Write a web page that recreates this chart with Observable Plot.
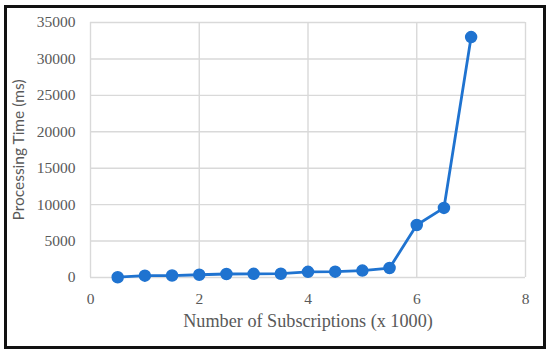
<!DOCTYPE html>
<html>
<head>
<meta charset="utf-8">
<script src="https://cdn.jsdelivr.net/npm/d3@7"></script>
<script src="https://cdn.jsdelivr.net/npm/@observablehq/plot@0.6"></script>
<style>
  html, body { margin: 0; padding: 0; background: #fff; }
  #wrap { position: relative; width: 550px; height: 355px; }
  #frame { position: absolute; left: 4px; top: 5px; width: 536px; height: 338px; border: 3px solid #111; pointer-events: none; }
  #wrap svg text { font-family: "Liberation Serif", "Times New Roman", serif; }
  #wrap svg text.ytitle { font-family: Lato, "Open Sans", sans-serif; }
</style>
</head>
<body>
<div id="wrap"><div id="frame"></div></div>
<script>
const subscriptions = [0.5, 1, 1.5, 2, 2.5, 3, 3.5, 4, 4.5, 5, 5.5, 6, 6.5, 7];
const processingMs = [40, 250, 270, 380, 480, 500, 520, 780, 800, 950, 1300, 7200, 9550, 33000];
const xTicks = [0, 2, 4, 6, 8];
const yTicks = [0, 5000, 10000, 15000, 20000, 25000, 30000, 35000];
const xTitle = "Number of Subscriptions (x 1000)";
const yTitle = "Processing Time (ms)";

const data = subscriptions.map((x, i) => ({x, y: processingMs[i]}));
const blue = "#1f73d0";
const grid = "#d9d9d9";

const chart = Plot.plot({
  width: 550,
  height: 355,
  marginLeft: 90,
  marginRight: 25,
  marginTop: 22,
  marginBottom: 78,
  style: { fontFamily: "'Liberation Serif', serif", fontSize: "15.5px", color: "#595959", background: "transparent" },
  x: { domain: [0, 8], ticks: xTicks, tickSize: 0, tickPadding: 15, label: null },
  y: { domain: [0, 35000], ticks: yTicks, tickSize: 0, tickPadding: 15, label: null, tickFormat: d => String(d) },
  marks: [
    Plot.ruleY(yTicks, { stroke: grid, strokeWidth: 1.4 }),
    Plot.ruleX(xTicks, { stroke: grid, strokeWidth: 1.4 }),
    Plot.line(data, { x: "x", y: "y", stroke: blue, strokeWidth: 2.8 }),
    Plot.dot(data, { x: "x", y: "y", r: 5.5, fill: blue, stroke: blue }),
    Plot.text([xTitle], { frameAnchor: "bottom", dy: 49, fontSize: 18.2, fill: "#595959" }),
    Plot.text([yTitle], { frameAnchor: "left", textAnchor: "middle", dx: -71, rotate: -90, fontSize: 15.5, fill: "#595959" })
  ]
});
chart.style.position = "absolute";
chart.style.left = "0";
chart.style.top = "0";
chart.querySelectorAll("text").forEach(t => { if (t.textContent === yTitle) t.classList.add("ytitle"); });
document.getElementById("wrap").prepend(chart);
</script>
</body>
</html>
